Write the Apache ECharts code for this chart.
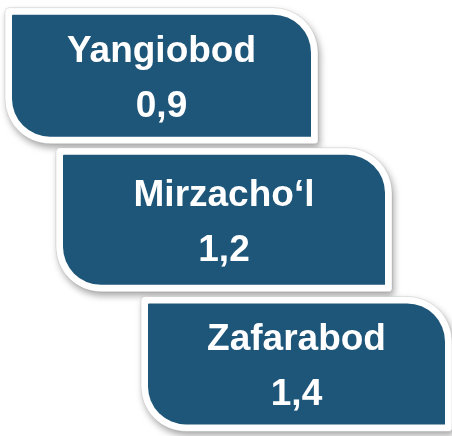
<!DOCTYPE html>
<html>
<head>
<meta charset="utf-8">
<style>
html,body{margin:0;padding:0;background:#ffffff;}
#chart{width:452px;height:436px;}
</style>
<script src="https://cdn.jsdelivr.net/npm/echarts@6/dist/echarts.min.js"></script>
</head>
<body>
<div id="chart"></div>
<script>
// Data
var regions = ['Yangiobod', 'Mirzacho\u2018l', 'Zafarabod'];
var values = [0.9, 1.2, 1.4];

// Layout (staircase boxes): left edge, width, height of each box
var boxLeft = [12, 63, 148];
var boxWidth = [299, 322, 297];
var boxHeight = [122, 130, 121];

var FILL = '#1E5679';
var BORDER = 7;
var R = 38;
var FONT = 'bold 37px "Liberation Sans", Arial, sans-serif';

var chart = echarts.init(document.getElementById('chart'), null, {renderer: 'canvas'});

function fmt(v) { return String(v).replace('.', ','); }

var option = {
  animation: false,
  backgroundColor: '#ffffff',
  grid: {left: 0, right: 0, top: 3.6, height: 440, containLabel: false},
  xAxis: {type: 'value', min: 0, max: 452, show: false},
  yAxis: {type: 'category', data: regions, inverse: true, show: false},
  series: [{
    type: 'custom',
    clip: false,
    data: values.map(function (v, i) { return [v, i]; }),
    encode: {x: 0, y: 1},
    renderItem: function (params, api) {
      var i = params.dataIndex;
      var v = api.value(0);
      var cy = api.coord([0, api.value(1)])[1];
      var w = boxWidth[i], h = boxHeight[i];
      var x = boxLeft[i];
      var y = cy - h / 2;
      var cx = x + w / 2;
      return {
        type: 'group',
        children: [
          {
            type: 'rect',
            shape: {x: x - BORDER, y: y - BORDER, width: w + 2 * BORDER, height: h + 2 * BORDER,
                    r: [4, R + BORDER, 3, R + BORDER]},
            style: {fill: '#ffffff', stroke: 'rgba(0,0,0,0.10)', lineWidth: 1,
                    shadowBlur: 7, shadowOffsetX: 2, shadowOffsetY: 4, shadowColor: 'rgba(0,0,0,0.35)'}
          },
          {
            type: 'rect',
            shape: {x: x, y: y, width: w, height: h, r: [1, R, 0, R]},
            style: {fill: FILL}
          },
          {
            type: 'text',
            style: {x: cx, y: cy - 24, text: regions[i],
                    fill: '#ffffff', font: FONT,
                    align: 'center', verticalAlign: 'middle'}
          },
          {
            type: 'text',
            style: {x: cx, y: cy + 31, text: fmt(v),
                    fill: '#ffffff', font: FONT,
                    align: 'center', verticalAlign: 'middle'}
          }
        ]
      };
    }
  }]
};
chart.setOption(option);
</script>
</body>
</html>
